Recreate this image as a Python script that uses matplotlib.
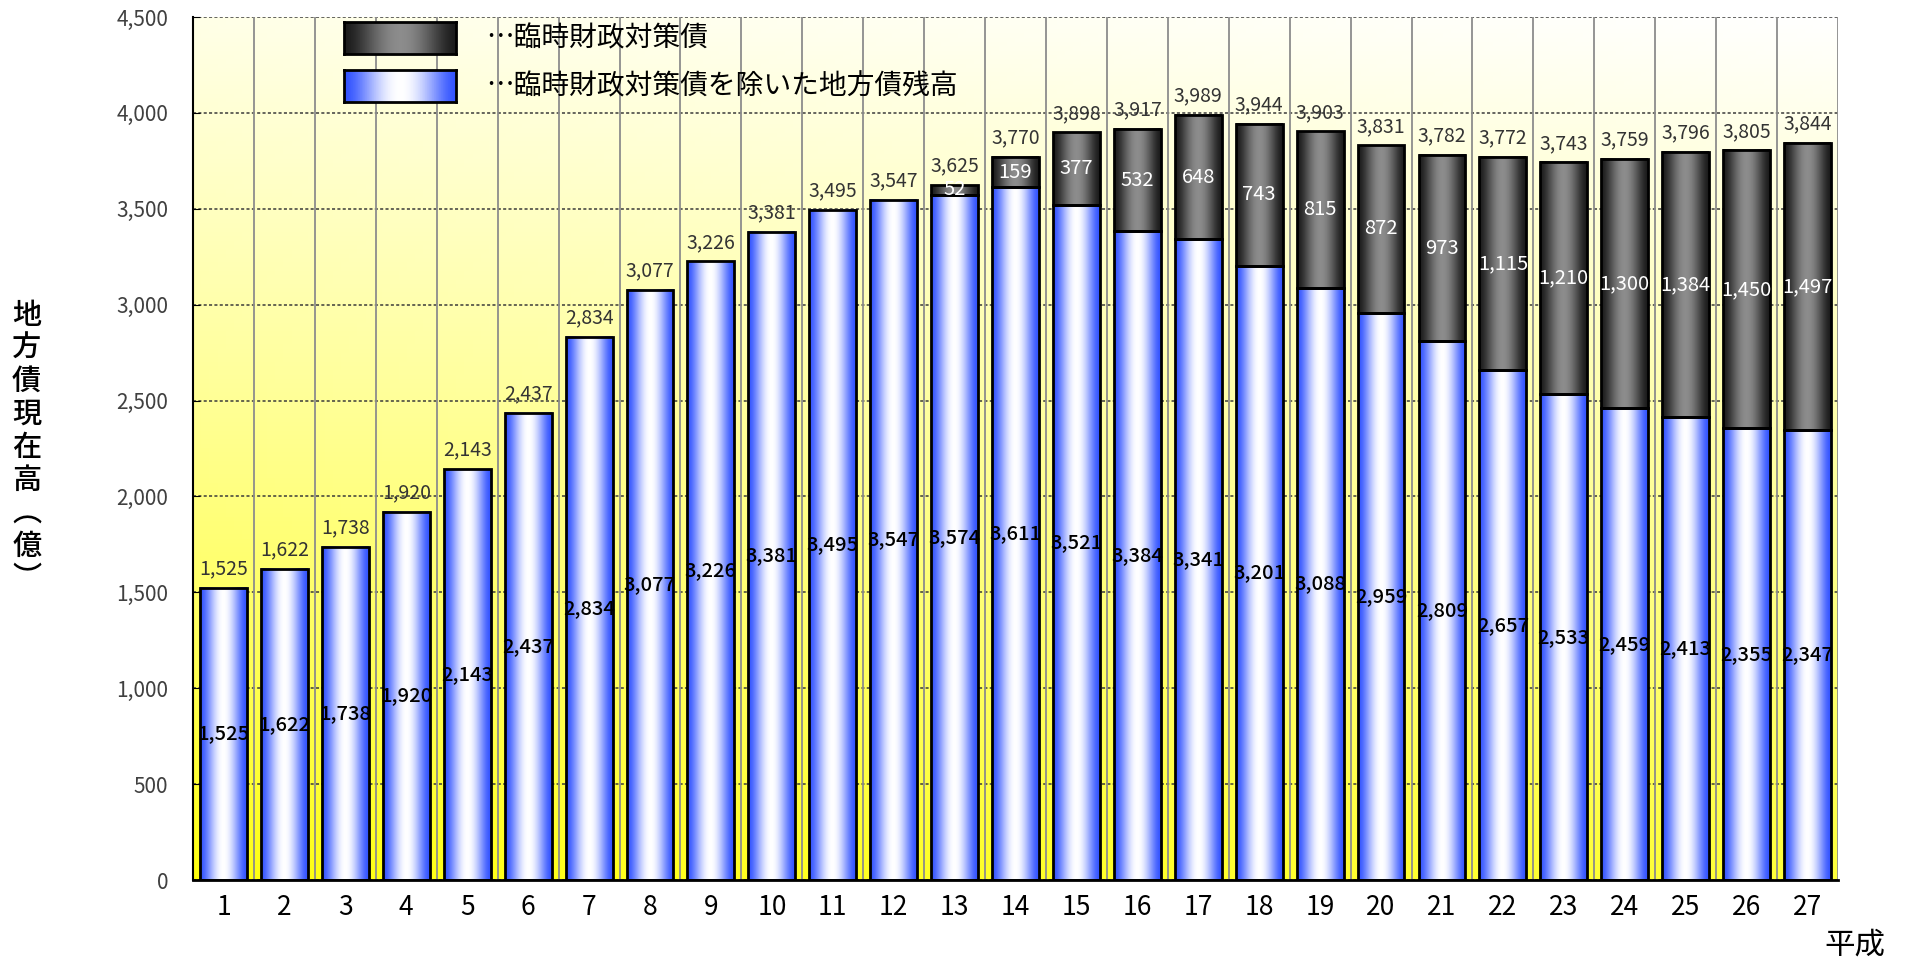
import numpy as np
import matplotlib
matplotlib.use('Agg')
import matplotlib.pyplot as plt
from matplotlib.patches import Rectangle

plt.rcParams['font.family'] = ['Noto Sans CJK JP', 'DejaVu Sans']

# -- データ -- #
years = list(range(1, 28))  # 平成1〜27年
base = [1525, 1622, 1738, 1920, 2143, 2437, 2834, 3077, 3226, 3381, 3495, 3547, 3574, 3611,
        3521, 3384, 3341, 3201, 3088, 2959, 2809, 2657, 2533, 2459, 2413, 2355, 2347]
rinji = [0, 0, 0, 0, 0, 0, 0, 0, 0, 0, 0, 0, 52, 159,
         377, 532, 648, 743, 815, 872, 973, 1115, 1210, 1300, 1384, 1450, 1497]
total = [1525, 1622, 1738, 1920, 2143, 2437, 2834, 3077, 3226, 3381, 3495, 3547, 3625, 3770,
         3898, 3917, 3989, 3944, 3903, 3831, 3782, 3772, 3743, 3759, 3796, 3805, 3844]
legend_labels = ['…臨時財政対策債', '…臨時財政対策債を除いた地方債残高']


# -- グラデーション -- #
def h_gradient(edge, center, n=64):
    u = np.linspace(0, 1, n)
    w = np.sin(np.pi * u) ** 1.6
    edge = np.array(edge)
    center = np.array(center)
    g = edge[None, :] * (1 - w[:, None]) + center[None, :] * w[:, None]
    return g[None, :, :]

blue_grad = h_gradient((0.2, 0.33, 1.0), (1.0, 1.0, 1.0))
dark_grad = h_gradient((0.11, 0.11, 0.11), (0.55, 0.55, 0.55))

fig = plt.figure(figsize=(19.06, 9.66), dpi=100)
ax = fig.add_axes([0.1013, 0.0890, 0.8630, 0.8934])

# 背景 (下が黄色、上が白)
ny, nx = 200, 200
yy, xx = np.mgrid[0:1:ny * 1j, 0:1:nx * 1j]
t = np.clip(0.88 * yy + 0.12 * xx, 0, 1)
bg = np.ones((ny, nx, 3))
bg[:, :, 2] = 0.05 + 0.95 * t ** 0.8
ax.imshow(bg, extent=[0.5, 27.5, 0, 4500], origin='lower', aspect='auto', zorder=0)

# 棒グラフ
bw = 0.77
for i, x in enumerate(years):
    x0, x1 = x - bw / 2, x + bw / 2
    ax.imshow(blue_grad, extent=[x0, x1, 0, base[i]], aspect='auto', zorder=2)
    ax.add_patch(Rectangle((x0, 0), bw, base[i], fill=False, edgecolor='black', lw=2, zorder=3))
    if rinji[i] > 0:
        ax.imshow(dark_grad, extent=[x0, x1, base[i], base[i] + rinji[i]], aspect='auto', zorder=2)
        ax.add_patch(Rectangle((x0, base[i]), bw, rinji[i], fill=False, edgecolor='black', lw=2, zorder=3))
        ax.text(x, base[i] + rinji[i] / 2, f'{rinji[i]:,}', color='white', fontsize=14.5,
                ha='center', va='center', zorder=4)
    ax.text(x, base[i] / 2, f'{base[i]:,}', color='black', fontsize=14.5,
            fontweight='medium', ha='center', va='center', zorder=4)
    ax.annotate(f'{total[i]:,}', (x, base[i] + rinji[i]), xytext=(0, 6), textcoords='offset points',
                ha='center', va='bottom', fontsize=14, color='#333333', zorder=4)

# 目盛り線
ax.vlines([x + 0.5 for x in years], 0, 4500, colors='#8c8c8c', lw=1.3, zorder=1)
ax.set_yticks(range(0, 4501, 500))
ax.set_yticklabels([f'{v:,}' for v in range(0, 4501, 500)], fontsize=15, color='#404040')
ax.yaxis.grid(True, linestyle=(0, (2, 1.5)), color='#3a3a3a', lw=1.1)
ax.set_axisbelow(True)
ax.set_xticks(years)
ax.set_xticklabels([str(y) for y in years], fontsize=19)
ax.tick_params(axis='x', length=0, pad=10)
ax.tick_params(axis='y', direction='in', length=5, pad=18)
ax.set_xlim(0.5, 27.5)
ax.set_ylim(0, 4500)
for s in ['top', 'right']:
    ax.spines[s].set_visible(False)
ax.spines['left'].set_linewidth(1.5)
ax.spines['bottom'].set_linewidth(2)

# 凡例
for k, (grad, lab) in enumerate([(dark_grad, legend_labels[0]), (blue_grad, legend_labels[1])]):
    bottom = 0.9441 - k * 0.0497
    lax = fig.add_axes([0.1805, bottom, 0.0588, 0.0331])
    lax.imshow(grad, extent=[0, 1, 0, 1], aspect='auto')
    lax.set_xticks([])
    lax.set_yticks([])
    for s in lax.spines.values():
        s.set_linewidth(2)
    fig.text(0.255, bottom + 0.0165, lab, fontsize=20, ha='left', va='center')

# 軸ラベル
fig.text(0.014, 0.537, '\n'.join('地方債現在高︵億︶'), fontsize=21, fontweight='medium',
         ha='center', va='center', linespacing=1.08)
fig.text(0.973, 0.022, '平成', fontsize=22, ha='center', va='center')

plt.savefig('out.png', dpi=100)
